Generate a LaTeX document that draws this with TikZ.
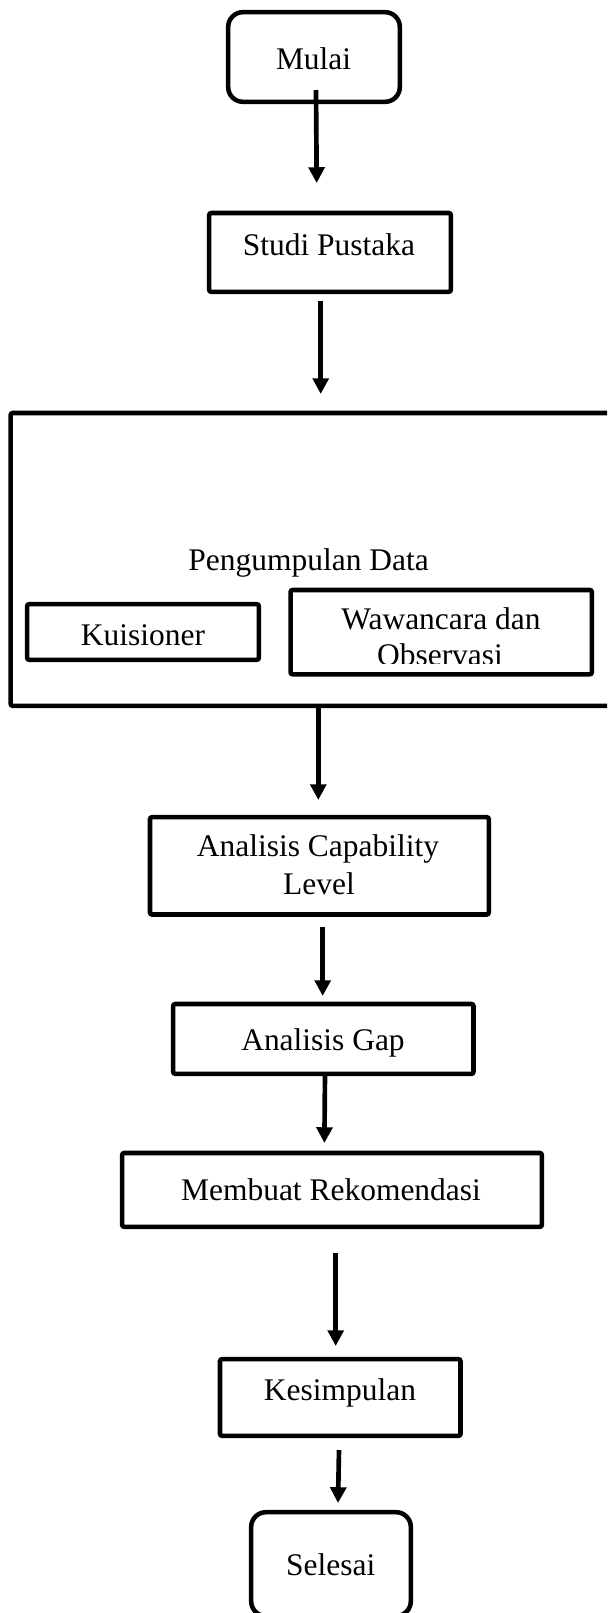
\documentclass[tikz,border=0pt]{standalone}
\usepackage{fontspec}
\setmainfont{Liberation Serif}
\usetikzlibrary{arrows.meta}
\tikzset{
  box/.style={draw, line width=3.4pt, inner sep=0pt, outer sep=0pt, rounded corners=1.5pt},
  termbox/.style={box, rounded corners=11pt},
  txt/.style={inner sep=0pt, outer sep=0pt, anchor=base, font=\fontsize{23.6pt}{28pt}\selectfont},
  arr/.style={line width=3.5pt, -{Triangle[length=11.8pt, width=11.8pt]}}
}
\begin{document}
\begin{tikzpicture}[x=0.75pt, y=-0.75pt]
\useasboundingbox (0,0) rectangle (607,1613);
\clip (0,0) rectangle (607,1613);
\fill[white] (0,0) rectangle (607,1613);

% boxes
\node[termbox, minimum width=171.6*0.75pt, minimum height=89.6*0.75pt] (mulai) at (314,57) {};
\node[box, minimum width=241.6*0.75pt, minimum height=78.8*0.75pt] (studi) at (330,252.4) {};
\node[box, minimum width=601.3*0.75pt, minimum height=292.8*0.75pt] (data) at (311.35,559.4) {};
\node[box, minimum width=231.6*0.75pt, minimum height=55.6*0.75pt] (kuis) at (143,632) {};
\node[box, minimum width=301.2*0.75pt, minimum height=84.3*0.75pt] (waw) at (441.2,632.15) {};
\node[box, minimum width=338.8*0.75pt, minimum height=97.3*0.75pt] (cap) at (319.4,865.85) {};
\node[box, minimum width=300.3*0.75pt, minimum height=69.8*0.75pt] (gap) at (323.35,1038.9) {};
\node[box, minimum width=419.6*0.75pt, minimum height=73.8*0.75pt] (rek) at (332,1189.9) {};
\node[box, minimum width=240.5*0.75pt, minimum height=76.6*0.75pt] (kes) at (340.25,1397.5) {};
\node[termbox, minimum width=159.6*0.75pt, minimum height=103.8*0.75pt] (sel) at (331,1564.1) {};

% texts
\node[txt] (tmulai) at (313.6,69) {Mulai};
\node[txt] (tstudi) at (329,255) {Studi Pustaka};
\node[txt] (tdata) at (308.6,570.7) {Pengumpulan Data};
\node[txt] (tkuis) at (143,645) {Kuisioner};
\node[txt] (twaw) at (441,629) {Wawancara dan};
\begin{scope}
\clip (292,590) rectangle (590,663.5);
\node[txt] (tobs) at (440,665) {Observasi};
\end{scope}
\node[txt] (tcap) at (318,856.7) {Analisis Capability};
\node[txt] (tlevel) at (319,894) {Level};
\node[txt] (tgap) at (323,1050) {Analisis Gap};
\node[txt] (trek) at (331,1200.7) {Membuat Rekomendasi};
\node[txt] (tkes) at (340,1400) {Kesimpulan};
\node[txt] (tsel) at (330.7,1575) {Selesai};

% connector end points
\coordinate (a1s) at (316,90);     \coordinate (a1e) at (316.7,183);
\coordinate (a2s) at (320.7,301);  \coordinate (a2e) at (320.7,394);
\coordinate (a3s) at (318.3,706);  \coordinate (a3e) at (318.3,800);
\coordinate (a4s) at (322.7,926.7);\coordinate (a4e) at (322.7,996);
\coordinate (a5s) at (325,1074);   \coordinate (a5e) at (324.4,1143);
\coordinate (a6s) at (335.7,1253); \coordinate (a6e) at (335.7,1346);
\coordinate (a7s) at (339,1450);   \coordinate (a7e) at (338,1503);

\draw[arr] (a1s) -- (a1e);
\draw[arr] (a2s) -- (a2e);
\draw[arr] (a3s) -- (a3e);
\draw[arr] (a4s) -- (a4e);
\draw[arr] (a5s) -- (a5e);
\draw[arr] (a6s) -- (a6e);
\draw[arr] (a7s) -- (a7e);
\end{tikzpicture}
\end{document}
